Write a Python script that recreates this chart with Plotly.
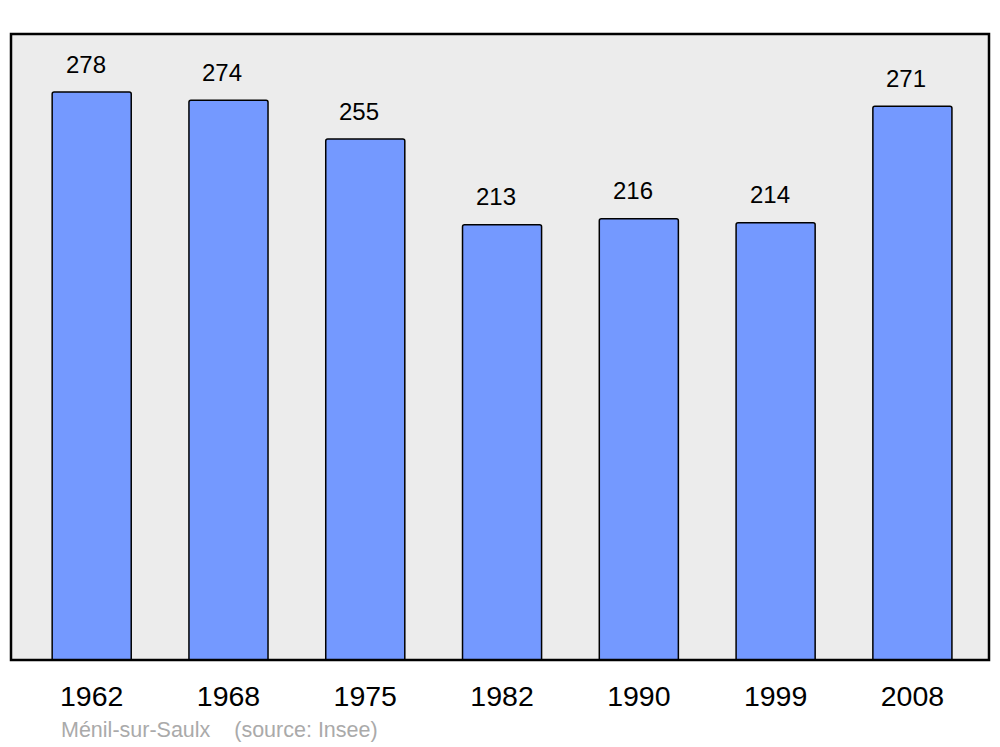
import plotly.graph_objects as go

years = ["1962", "1968", "1975", "1982", "1990", "1999", "2008"]
population = [278, 274, 255, 213, 216, 214, 271]
footer_text = "Ménil-sur-Saulx\u00a0\u00a0\u00a0\u00a0(source: Insee)"

FONT = "Liberation Sans, Arial, sans-serif"

fig = go.Figure()
fig.add_trace(go.Bar(
    x=list(range(len(years))), y=population,
    width=0.578,
    marker=dict(color="#7499FF", line=dict(color="#000000", width=1.5), cornerradius=2),
    hoverinfo="skip",
))

for i, v in enumerate(population):
    fig.add_annotation(x=i, y=v, text=str(v), showarrow=False,
                       xshift=-6, yshift=28, yanchor="middle",
                       font=dict(family=FONT, size=24, color="#000000"))

fig.add_annotation(xref="paper", yref="paper", x=48/978, y=-70/626,
                   xanchor="left", yanchor="middle", text=footer_text, showarrow=False,
                   font=dict(family=FONT, size=21.5, color="#AAAAAA"))

fig.add_shape(type="rect", xref="paper", yref="paper", x0=0, y0=0, x1=1, y1=1,
              line=dict(color="#000000", width=2.5), layer="above")

# page body has an 8px margin, so the figure is 992x739 and left/top offsets are reduced by 8px
fig.update_layout(
    width=992, height=739,
    margin=dict(l=3, r=11, t=26, b=87),
    paper_bgcolor="#FFFFFF", plot_bgcolor="#ECECEC",
    showlegend=False,
    xaxis=dict(range=[-0.59, 6.56], showgrid=False, zeroline=False,
               showline=False, ticks="", ticklabelstandoff=16,
               tickmode="array", tickvals=list(range(len(years))), ticktext=years,
               tickfont=dict(family=FONT, size=28.5, color="#000000")),
    yaxis=dict(range=[0, 306.4], showgrid=False, zeroline=False, showline=False,
               showticklabels=False, ticks=""),
)

fig.write_html("out.html")
